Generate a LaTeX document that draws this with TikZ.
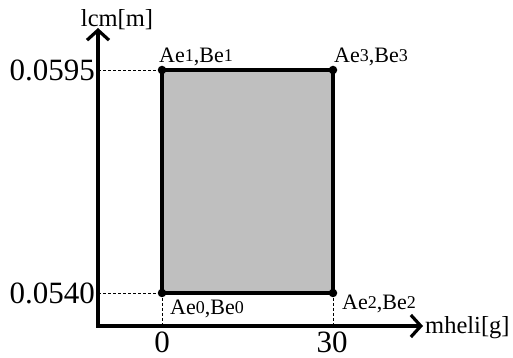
\documentclass[tikz,border=0pt]{standalone}
\usepackage{fontspec}
\setmainfont{Liberation Serif}
\usepackage{tikz}
\usetikzlibrary{positioning, arrows.meta}
\newcommand{\idx}[1]{\raisebox{1.5pt}{\fontsize{18}{18}\selectfont #1}}

\begin{document}
\begin{tikzpicture}[
    x=1pt, y=1pt,
    axis/.style={line width=3.2pt, -{Straight Barb[length=10pt, width=22pt, line width=3.2pt]}},
    guide/.style={dashed, line width=0.8pt, dash pattern=on 3pt off 2pt},
    region/.style={draw, line width=3.2pt, fill=black!25},
    corner/.style={circle, fill, inner sep=0pt, minimum size=8.5pt},
    ticklab/.style={font=\fontsize{31}{31}\selectfont, inner sep=0pt},
    axislab/.style={font=\fontsize{24.5}{24.5}\selectfont, inner sep=0pt},
    ptlab/.style={font=\fontsize{22}{22}\selectfont, inner sep=0pt}
]
    \useasboundingbox (0,0) rectangle (513,358);

    \coordinate (O) at (98,32);
    \coordinate (ytip) at (98,330);
    \coordinate (xtip) at (423,32);
    \coordinate (e0) at (162,65);
    \coordinate (e1) at (162,288);
    \coordinate (e2) at (333,65);
    \coordinate (e3) at (333,288);
    \coordinate (ylo) at (O |- e0);
    \coordinate (yhi) at (O |- e1);
    \coordinate (x0) at (O -| e0);
    \coordinate (x30) at (O -| e2);

    % guide lines
    \draw[guide] (ylo) -- (e0);
    \draw[guide] (yhi) -- (e1);
    \draw[guide] (e0) -- (x0);
    \draw[guide] (e2) -- (x30);

    % feasible region
    \draw[region] (e0) -- (e2) -- (e3) -- (e1) -- cycle;

    % axes
    \draw[axis] (O) -- (ytip);
    \draw[axis] ([xshift=-1.6pt]O) -- (xtip);

    \node[corner] at (e0) {};
    \node[corner] at (e1) {};
    \node[corner] at (e2) {};
    \node[corner] at (e3) {};

    \node[axislab, anchor=base] (ylab) at (117,331) {lcm[m]};
    \node[axislab, anchor=base west] (xlab) at (425,24) {mheli[g]};
    \node[ticklab, anchor=east] (t595) at (95,288) {0.0595};
    \node[ticklab, anchor=east] (t540) at (95,65) {0.0540};
    \node[ticklab] (t0) at (162,16) {0};
    \node[ticklab] (t30) at (332,16) {30};

    \node[ptlab, anchor=base west] (l1) at (159,295) {Ae\idx{1},Be\idx{1}};
    \node[ptlab, anchor=base west] (l3) at (334,295) {Ae\idx{3},Be\idx{3}};
    \node[ptlab, anchor=base west] (l0) at (170,43) {Ae\idx{0},Be\idx{0}};
    \node[ptlab, anchor=base west] (l2) at (342,48) {Ae\idx{2},Be\idx{2}};
\end{tikzpicture}
\end{document}
